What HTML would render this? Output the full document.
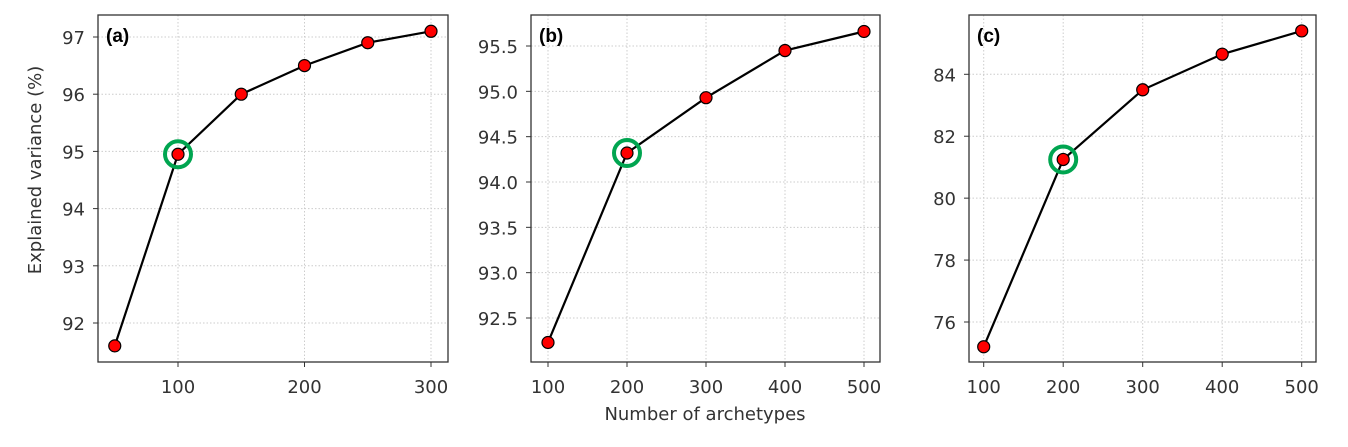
<!DOCTYPE html>
<html><head><meta charset="utf-8"><style>
body{margin:0;background:#fff;width:1348px;height:442px;overflow:hidden}
svg{font-family:"DejaVu Sans","Liberation Sans",sans-serif}
</style></head><body>
<svg id="c" width="1348" height="442"></svg>
<script>
const xA=[50,100,150,200,250,300];
const yA=[91.6,94.95,96.0,96.5,96.9,97.1];
const xB=[100,200,300,400,500];
const yB=[92.23,94.32,94.93,95.45,95.66];
const xC=[100,200,300,400,500];
const yC=[75.2,81.25,83.5,84.65,85.4];
const xTicksA=[100,200,300], yTicksA=[92,93,94,95,96,97];
const xTicksB=[100,200,300,400,500], yTicksB=[92.5,93.0,93.5,94.0,94.5,95.0,95.5];
const xTicksC=[100,200,300,400,500], yTicksC=[76,78,80,82,84];
const hlA=1, hlB=1, hlC=1;
const NS='http://www.w3.org/2000/svg';
const svg=document.getElementById('c');
function mk(t,a,p){const e=document.createElementNS(NS,t);for(const k in a)e.setAttribute(k,a[k]);(p||svg).appendChild(e);return e;}
function panel(o){
 const g=mk('g',{});
 
 
 const X=v=>o.x0+(v-o.xd[0])/(o.xd[1]-o.xd[0])*(o.x1-o.x0);
 const Y=v=>o.y1-(v-o.yd[0])/(o.yd[1]-o.yd[0])*(o.y1-o.y0);
 o.xt.forEach(t=>{const l=mk('line',{x1:X(t),x2:X(t),y1:o.by0,y2:o.by1,stroke:'#ccc','stroke-dasharray':'1.5,2','stroke-width':1},g);
  
  mk('line',{x1:X(t),x2:X(t),y1:o.by1,y2:o.by1+5,stroke:'#333'},g);
  const tx=mk('text',{x:X(t),y:o.by1+31,'text-anchor':'middle','font-size':18,fill:'#333'},g);tx.textContent=t;
  });
 o.yt.forEach(t=>{const l=mk('line',{x1:o.bx0,x2:o.bx1,y1:Y(t),y2:Y(t),stroke:'#ccc','stroke-dasharray':'1.5,2','stroke-width':1},g);
  
  mk('line',{x1:o.bx0-5,x2:o.bx0,y1:Y(t),y2:Y(t),stroke:'#333'},g);
  const tx=mk('text',{x:o.bx0-13,y:Y(t)+7,'text-anchor':'end','font-size':18,fill:'#333'},g);tx.textContent=o.fmt?t.toFixed(1):t;
  });
 const fr=mk('rect',{x:o.bx0,y:o.by0,width:o.bx1-o.bx0,height:o.by1-o.by0,fill:'none',stroke:'#333','stroke-width':1.3},g);
 
 const pl=mk('polyline',{points:o.xs.map((v,i)=>X(v)+','+Y(o.ys[i])).join(' '),fill:'none',stroke:'#000','stroke-width':2.2},g);
 
 o.xs.forEach((v,i)=>{const c=mk('circle',{cx:X(v),cy:Y(o.ys[i]),r:6,fill:'#f00',stroke:'#000','stroke-width':1.2},g);
  });
 const h=mk('circle',{cx:X(o.xs[o.hl]),cy:Y(o.ys[o.hl]),r:13,fill:'none',stroke:'#00a550','stroke-width':4},g);
 
 const lb=mk('text',{x:o.bx0+8,y:o.by0+27,'font-size':19,'font-weight':'bold',fill:'#000','font-family':'Liberation Sans, sans-serif'},g);lb.textContent='('+o.id+')';
 
}
panel({id:'a',xs:xA,ys:yA,xt:xTicksA,yt:yTicksA,hl:hlA,bx0:98,bx1:448,by0:15,by1:362,x0:178,x1:431,xd:[100,300],y0:37,y1:323,yd:[92,97]});
panel({id:'b',xs:xB,ys:yB,xt:xTicksB,yt:yTicksB,hl:hlB,fmt:1,bx0:531,bx1:880,by0:15,by1:362,x0:548,x1:864,xd:[100,500],y0:46,y1:318,yd:[92.5,95.5]});
panel({id:'c',xs:xC,ys:yC,xt:xTicksC,yt:yTicksC,hl:hlC,bx0:969,bx1:1316,by0:15,by1:362,x0:983.7,x1:1301.7,xd:[100,500],y0:74.3,y1:322,yd:[76,84]});
const yl=mk('text',{x:0,y:0,transform:'translate(41,170) rotate(-90)','text-anchor':'middle','font-size':18,fill:'#333'});yl.textContent='Explained variance (%)';

const xl=mk('text',{x:705,y:420,'text-anchor':'middle','font-size':18,fill:'#333'});xl.textContent='Number of archetypes';

</script>
</body></html>
